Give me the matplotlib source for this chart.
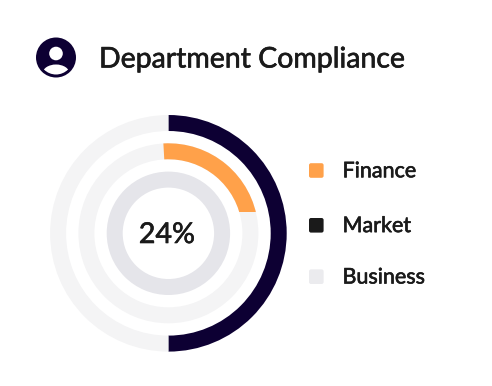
# -*- coding: utf-8 -*-
import matplotlib
matplotlib.use("Agg")
import matplotlib.pyplot as plt
import matplotlib.patheffects as pe
from matplotlib.patches import Circle, Ellipse, FancyBboxPatch, Rectangle

plt.rcParams["font.family"] = ["Lato", "DejaVu Sans"]

# Data
TITLE = "Department Compliance"
CENTER_LABEL = "24%"
labels = ["Finance", "Market", "Business"]
legend_colors = ["#FFA14A", "#1A1A1A", "#EBEBEE"]
market_share = [50, 50]
finance_share = [24, 76]
business_share = [100]

NAVY = "#0D0033"
ORANGE = "#FFA14A"
TRACK = "#F4F4F5"
INNER = "#E5E5EA"
INK = "#1A1A1A"

W, H = 492, 386
fig = plt.figure(figsize=(W / 100, H / 100), dpi=100, facecolor="white")
ax = fig.add_axes([0, 0, 1, 1])


def py(y):
    # picture rows run downward, the axes run upward
    return H - y


# Lato has no medium cut here, a thin outline thickens it
heavier = [pe.withStroke(linewidth=0.45, foreground=INK)]

CX, CY = 168.4, py(233.3)

# outer ring
ax.pie(market_share, colors=[NAVY, TRACK], radius=118.3, center=(CX, CY),
       startangle=90, counterclock=False, frame=True,
       wedgeprops=dict(width=16, linewidth=0))

# middle ring: grey track, then orange arc cut flat at its end
ax.pie([100], colors=[TRACK], radius=90, center=(CX, CY), frame=True,
       wedgeprops=dict(width=16, linewidth=0))
wedges, _ = ax.pie(finance_share, colors=[ORANGE, "none"], radius=90, center=(CX, CY),
                   startangle=93.2, counterclock=False, frame=True,
                   wedgeprops=dict(width=16, linewidth=0))

# inner ring
ax.pie(business_share, colors=[INNER], radius=61.7, center=(CX, CY), frame=True,
       wedgeprops=dict(width=16, linewidth=0))

ax.set_xlim(0, W)
ax.set_ylim(0, H)
ax.set_aspect("equal")
ax.axis("off")

# pie turns clipping off on its wedges, so switch it back on for the flat cut
cut = Rectangle((150, py(211.7)), 120, 82, transform=ax.transData)
wedges[0].set_clip_on(True)
wedges[0].set_clip_path(cut)

ax.text(CX - 1.5, py(235), CENTER_LABEL, fontsize=20.6, color=INK,
        ha="center", va="center", path_effects=heavier)

# header icon
ax.add_patch(Circle((56, py(57.5)), 20, color=NAVY, lw=0))
ax.add_patch(Circle((56, py(53.5)), 6.8, color="white", lw=0))
body = Ellipse((56, py(73.5)), 27, 18, color="white", lw=0)
ax.add_patch(body)
body.set_clip_path(Circle((56, py(57.5)), 17, transform=ax.transData))

ax.text(99, py(59.5), TITLE, fontsize=20.5, color=INK, va="center", ha="left",
        path_effects=heavier)

# legend
legend_y = [170.5, 225.3, 276.7]
for lab, col, y in zip(labels, legend_colors, legend_y):
    ax.add_patch(FancyBboxPatch((310, py(y) - 6.3), 12.6, 12.6,
                                boxstyle="round,pad=1,rounding_size=2",
                                fc=col, ec="none"))
    ax.text(342.5, py(y) - 0.8, lab, fontsize=15.5, color=INK, va="center", ha="left",
            path_effects=heavier)

fig.savefig("out.png", dpi=100)
